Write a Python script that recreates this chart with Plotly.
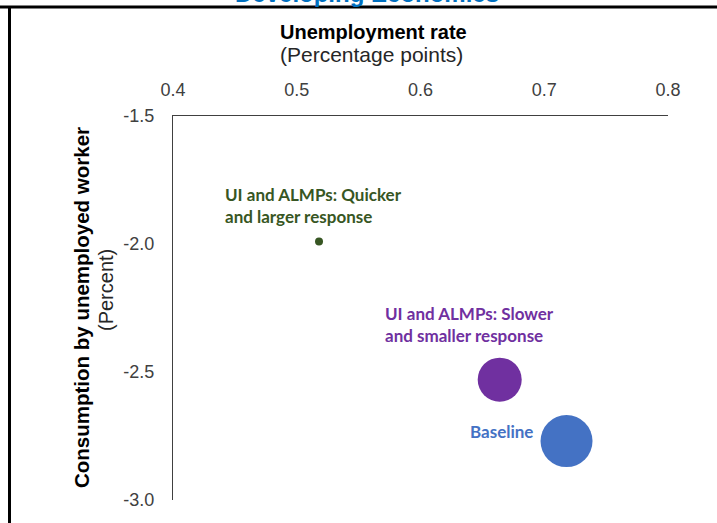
import plotly.graph_objects as go

# data
labels = ["UI and ALMPs: Quicker<br>and larger response", "UI and ALMPs: Slower<br>and smaller response", "Baseline"]
unemployment = [0.518, 0.664, 0.718]
consumption = [-1.99, -2.53, -2.77]
x_ticks = [0.4, 0.5, 0.6, 0.7, 0.8]
y_ticks = [-1.5, -2.0, -2.5, -3.0]
y_ticktext = ["-1.5", "-2.0", "-2.5", "-3.0"]

colors = ["#375623", "#7030A0", "#4472C4"]
sizes = [8, 44, 52]

# plot area in pixels: left 173, right 668, top 116, bottom 500
W, H = 717, 523
L, R, T, B = 173, 668, 116, 500
pw, ph = R - L, B - T


def px_x(p):
    return (p - L) / pw


def px_y(p):
    return (B - p) / ph


fig = go.Figure(
    go.Scatter(
        x=unemployment,
        y=consumption,
        mode="markers",
        marker=dict(color=colors, size=sizes, opacity=1, line_width=0),
        hoverinfo="skip",
    )
)

label_pos = [
    dict(x=0.440, y=-1.848, xanchor="left"),
    dict(x=0.570, y=-2.316, xanchor="left"),
    dict(x=0.6925, y=-2.734, xanchor="right"),
]
for text, c, pos in zip(labels, colors, label_pos):
    fig.add_annotation(
        text=f"<b>{text}</b>",
        xref="x",
        yref="y",
        showarrow=False,
        yanchor="middle",
        align="left",
        font=dict(family="Lato, Open Sans, sans-serif", size=17, color=c),
        **pos,
    )

font = "Liberation Sans, Arial, sans-serif"
titles = [
    ("<b>Unemployment rate</b>", 373, 32, 0, 20, "black"),
    ("(Percentage points)", 371, 54, 0, 21, "#262626"),
    ("<b>Consumption by unemployed worker</b>", 81, 308, -90, 20.5, "black"),
    ("(Percent)", 106, 290, -90, 20, "#262626"),
]
for text, x, y, angle, size, c in titles:
    fig.add_annotation(
        text=text, xref="paper", yref="paper", x=px_x(x), y=px_y(y),
        xanchor="center", yanchor="middle", textangle=angle,
        showarrow=False, font=dict(family=font, size=size, color=c),
    )

# cut-off panel title at the very top
fig.add_annotation(
    text="<b>Developing Economies</b>",
    xref="paper", yref="paper", x=px_x(367), y=px_y(9),
    xanchor="center", yanchor="bottom",
    showarrow=False, font=dict(family=font, size=24, color="#0070C0"),
)

# frame lines of the panel
fig.add_shape(type="line", xref="paper", yref="paper",
              x0=px_x(0), x1=px_x(W), y0=px_y(7), y1=px_y(7),
              line=dict(color="black", width=3))
fig.add_shape(type="line", xref="paper", yref="paper",
              x0=px_x(9.5), x1=px_x(9.5), y0=px_y(6), y1=px_y(H),
              line=dict(color="black", width=3))

fig.update_layout(
    width=W,
    height=H,
    margin=dict(l=L, r=W - R, t=T, b=H - B),
    paper_bgcolor="white",
    plot_bgcolor="white",
    showlegend=False,
    font=dict(family=font, size=18, color="#404040"),
    xaxis=dict(
        side="top",
        range=[0.4, 0.8],
        tickvals=x_ticks,
        tickformat=".1f",
        showgrid=False,
        zeroline=False,
        showline=True,
        linecolor="#404040",
        linewidth=1,
        ticks="",
        ticklabelstandoff=12,
    ),
    yaxis=dict(
        range=[-3.0, -1.5],
        tickvals=y_ticks,
        ticktext=y_ticktext,
        showgrid=False,
        zeroline=False,
        showline=True,
        linecolor="#404040",
        linewidth=1,
        ticks="",
        ticklabelstandoff=14,
    ),
)

# the page's default 8px body margin would shift the whole figure
fig.write_html(
    "out.html",
    config={"displayModeBar": False},
    post_script="document.body.style.margin='0';",
)
